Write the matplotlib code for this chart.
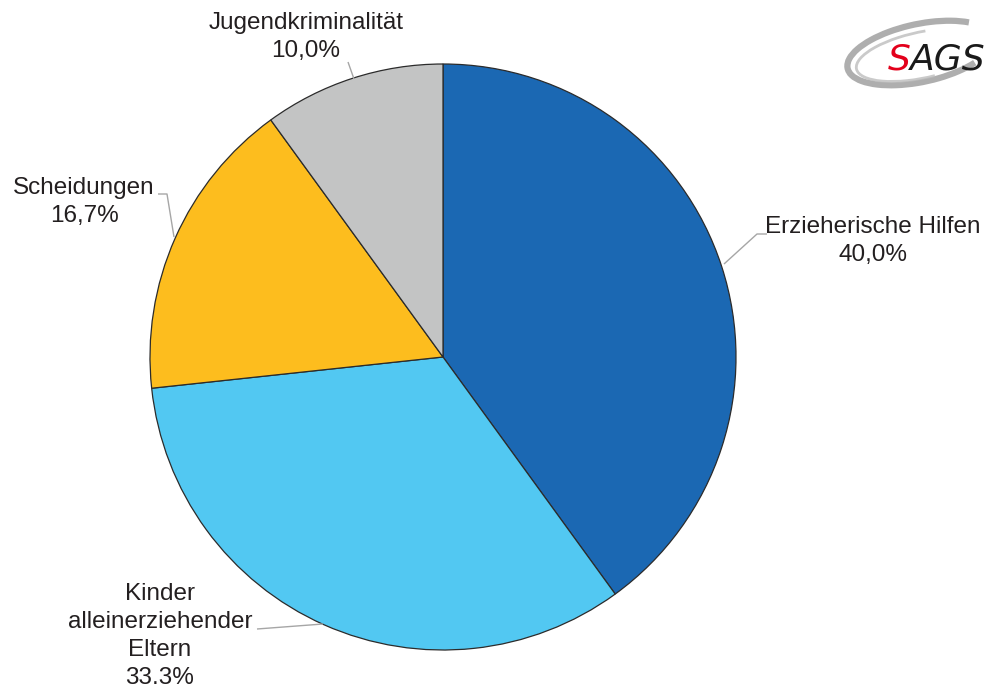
import matplotlib.pyplot as plt
from matplotlib.patches import Arc

# --- Data ---
categories = ["Erzieherische Hilfen", "Kinder\nalleinerziehender\nEltern",
              "Scheidungen", "Jugendkriminalität"]
values = [40.0, 33.3, 16.7, 10.0]
value_labels = ["40,0%", "33.3%", "16,7%", "10,0%"]

colors = ["#1B68B3", "#52C8F2", "#FDBD1E", "#C3C4C4"]

W, H = 992, 688
plt.rcParams["font.family"] = ["Liberation Sans", "DejaVu Sans"]

fig = plt.figure(figsize=(W / 100, H / 100), dpi=100)
ax = fig.add_axes([0, 0, 1, 1])

def Y(y):
    # pixel row (top-down) to axis y (bottom-up)
    return H - y

cx, cy, r = 443, Y(357), 293
ax.pie(values, colors=colors, startangle=90, counterclock=False,
       center=(cx, cy), radius=r, frame=True,
       wedgeprops=dict(edgecolor="#2b2b2b", linewidth=0.9))
ax.set_xlim(0, W)
ax.set_ylim(0, H)
ax.set_aspect("equal")
ax.axis("off")

# label text positions and leader lines (pixel coords)
label_pos = [(873, 241), (160, 636), (84, 202), (306, 37)]
leaders = [
    [(724, 264), (757, 234), (767, 234)],
    [(257, 629), (323, 624)],
    [(158, 194), (167, 194), (174, 237)],
    [(348, 62), (354, 79)],
]

for name, pct, (tx, ty), pts in zip(categories, value_labels, label_pos, leaders):
    ax.text(tx, Y(ty), f"{name}\n{pct}", ha="center", va="center",
            fontsize=17.5, color="#231F20", linespacing=1.36)
    ax.plot([p[0] for p in pts], [Y(p[1]) for p in pts],
            color="#A6A6A6", lw=1.0, solid_capstyle="butt")

# SAGS logo: grey swoosh with lettering
ax.add_patch(Arc((920, Y(53)), 148, 58, angle=12, theta1=20, theta2=338,
                 color="#a0a0a0", lw=4.5, alpha=0.85))
ax.add_patch(Arc((922, Y(55)), 134, 46, angle=12, theta1=70, theta2=290,
                 color="#bdbdbd", lw=2, alpha=0.8))
ax.text(888, Y(59), "S", color="#E3001B", fontsize=26, style="italic",
        ha="left", va="center", family="DejaVu Sans")
ax.text(910, Y(59), "AGS", color="#1a1a1a", fontsize=26, style="italic",
        ha="left", va="center", family="DejaVu Sans")

fig.savefig("out.png", dpi=100)
